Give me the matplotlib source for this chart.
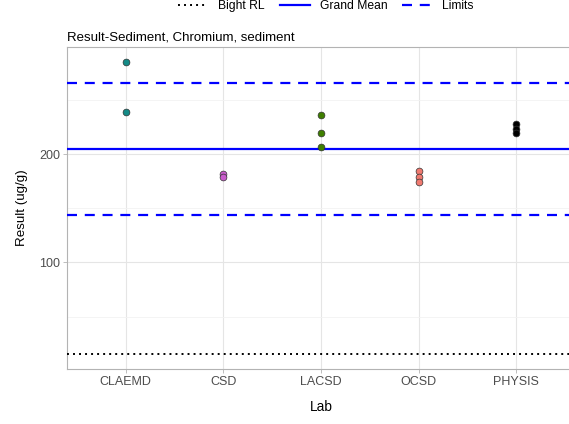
import matplotlib
matplotlib.use("Agg")
import matplotlib.pyplot as plt
from matplotlib.lines import Line2D
import numpy as np

plt.rcParams['font.family'] = ['Liberation Sans', 'DejaVu Sans']

labs = ["CLAEMD", "CSD", "LACSD", "OCSD", "PHYSIS"]
results = {
    "CLAEMD": [285.8, 239.0],
    "CSD": [182.0, 179.0],
    "LACSD": [236.7, 220.1, 206.8],
    "OCSD": [184.3, 179.4, 174.6],
    "PHYSIS": [227.8, 223.5, 219.5],
}
colors = {
    "CLAEMD": "#138a86",
    "CSD": "#c95ccc",
    "LACSD": "#3f7f00",
    "OCSD": "#f07a70",
    "PHYSIS": "#000000",
}
grand_mean = 204.6
limits = [143.6, 265.6]
bight_rl = 15.0

fig = plt.figure(figsize=(5.69, 4.24), dpi=100)
W, H = 569, 424
left, right, top, bottom = 67, 575, 47, 369
ax = fig.add_axes([left / W, 1 - bottom / H, (right - left) / W, (bottom - top) / H])

x = np.arange(len(labs))
for i, lab in enumerate(labs):
    vals = results[lab]
    ax.scatter([i] * len(vals), vals, s=24, color=colors[lab],
               edgecolor="#333333", linewidth=0.5, zorder=4)

dash = (0, (4.5, 3.5))
dot = (0, (1, 2.1))
ax.axhline(grand_mean, color="#0000ff", lw=1.6, zorder=3)
for lim in limits:
    ax.axhline(lim, color="#0000ff", lw=1.6, ls=dash, zorder=3)
ax.axhline(bight_rl, color="black", lw=1.4, ls=dot, zorder=3)

allv = [v for l in labs for v in results[l]] + [bight_rl, grand_mean] + limits
lo, hi = min(allv), max(allv)
pad = (hi - lo) * 0.05
ax.set_ylim(lo - pad, hi + pad)
ax.set_xlim(-0.6, len(labs) - 0.4)

ax.set_xticks(x)
ax.set_xticklabels(labs)
ax.set_yticks([100, 200])
ax.set_yticks([50, 150, 250], minor=True)
ax.grid(True, which="major", color="#e5e5e5", lw=0.8, zorder=0)
ax.grid(True, which="minor", axis="y", color="#f2f2f2", lw=0.6, zorder=0)
ax.set_axisbelow(True)
for s in ax.spines.values():
    s.set_color("#b3b3b3")
    s.set_linewidth(0.8)
ax.tick_params(axis="both", which="major", colors="#b3b3b3", labelcolor="#4d4d4d",
               labelsize=9, length=3, width=0.6, pad=2)
ax.tick_params(axis="y", which="minor", length=0)

ax.set_xlabel("Lab", fontsize=9.8, labelpad=9, color="black")
ax.set_ylabel("Result (ug/g)", fontsize=9.6, labelpad=8, color="black")
ax.set_title("Result-Sediment, Chromium, sediment", loc="left", fontsize=9.5,
             pad=5, color="black")

handles = [
    Line2D([], [], color="black", lw=1.4, ls=dot),
    Line2D([], [], color="#0000ff", lw=1.6),
    Line2D([], [], color="#0000ff", lw=1.6, ls=dash),
]
fig.legend(handles, ["Bight RL", "Grand Mean", "Limits"], ncol=3, frameon=False,
           loc="center", bbox_to_anchor=(326 / W, 1 - 6 / H), fontsize=8.7,
           handlelength=2.5, columnspacing=1.25, handletextpad=0.8,
           borderpad=0.0, borderaxespad=0.0)

fig.savefig("out.png", dpi=100)
